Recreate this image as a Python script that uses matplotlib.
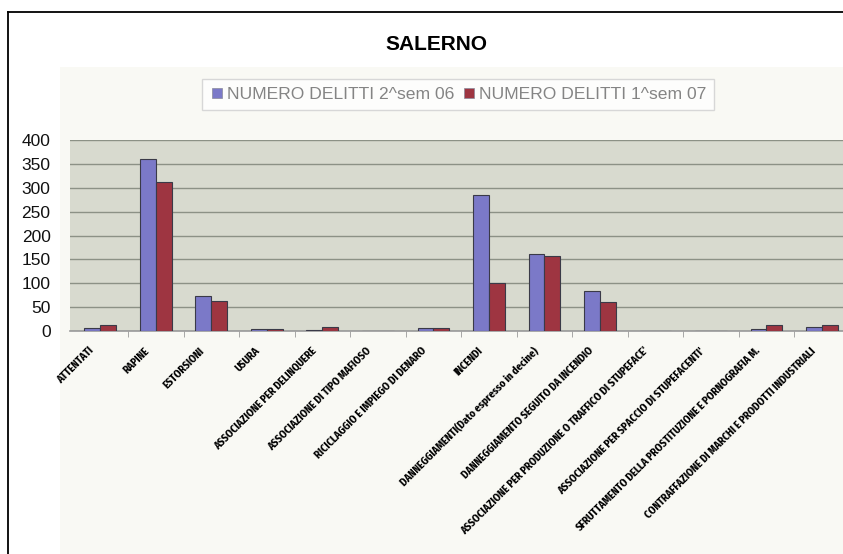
import numpy as np
import matplotlib
matplotlib.use('Agg')
import matplotlib.pyplot as plt
import matplotlib.transforms as mtransforms
from matplotlib import font_manager
from matplotlib.lines import Line2D
from matplotlib.patches import Rectangle

categories = [
    'ATTENTATI',
    'RAPINE',
    'ESTORSIONI',
    'USURA',
    'ASSOCIAZIONE PER DELINQUERE',
    'ASSOCIAZIONE DI TIPO MAFIOSO',
    'RICICLAGGIO E IMPIEGO DI DENARO',
    'INCENDI',
    'DANNEGGIAMENTI(Dato espresso in decine)',
    'DANNEGGIAMENTO SEGUITO DA INCENDIO',
    "ASSOCIAZIONE PER PRODUZIONE O TRAFFICO DI STUPEFACE'",
    "ASSOCIAZIONE PER SPACCIO DI STUPEFACENTI'",
    'SFRUTTAMENTO DELLA PROSTITUZIONE E PORNOGRAFIA M.',
    'CONTRAFFAZIONE DI MARCHI E PRODOTTI INDUSTRIALI',
]
sem2_06 = [6, 360, 73, 5, 2, 0, 6, 285, 161, 84, 0, 0, 5, 9]
sem1_07 = [12, 313, 62, 5, 9, 0, 7, 100, 157, 60, 0, 0, 12, 12]
series_names = ['NUMERO DELITTI 2^sem 06', 'NUMERO DELITTI 1^sem 07']

blue = '#7b79c8'
red = '#9e3541'


def narrow_font():
    # pick the most condensed installed face for the category labels
    best, best_rank = 'DejaVu Sans', 0
    for f in font_manager.fontManager.ttflist:
        n = f.name.lower()
        rank = 0
        if 'extra' in n and 'condensed' in n:
            rank = 3
        elif 'condensed' in n or 'narrow' in n:
            rank = 2
        if rank > best_rank:
            best, best_rank = f.name, rank
    return best


label_font = narrow_font()

fig = plt.figure(figsize=(8.43, 5.54), dpi=100)
fig.patch.set_facecolor('white')

# faint chart area and the outer frame lines
fig.add_artist(Rectangle((60 / 843, 0), 1, 1 - 67 / 554, transform=fig.transFigure,
                         facecolor='#f9f9f4', edgecolor='none', zorder=0))
fig.add_artist(Line2D([8 / 843, 8 / 843], [0, 1 - 12 / 554], transform=fig.transFigure,
                      color='black', lw=1.3))
fig.add_artist(Line2D([8 / 843, 1], [1 - 12 / 554, 1 - 12 / 554], transform=fig.transFigure,
                      color='black', lw=1.3))

ax = fig.add_axes([70 / 843, 1 - 331 / 554, 1 - 70 / 843, (331 - 140) / 554])
ax.set_facecolor('#d8dacf')

x = np.arange(len(categories))
w = 0.285
ax.bar(x - w / 2, sem2_06, w, color=blue, edgecolor='#3a3a48', lw=0.8, zorder=3)
ax.bar(x + w / 2, sem1_07, w, color=red, edgecolor='#3a3a48', lw=0.8, zorder=3)

ax.set_ylim(0, 400)
ax.set_yticks(np.arange(0, 401, 50))
ax.set_xlim(-0.545, 13.38)
ax.yaxis.grid(True, color='#8c9186', lw=1.0, zorder=1)
ax.set_axisbelow(True)
for s in ['left', 'right', 'top']:
    ax.spines[s].set_visible(False)
ax.spines['bottom'].set_color('#9a9a9a')
ax.spines['bottom'].set_linewidth(1.2)

ax.tick_params(axis='y', length=0, pad=14, labelsize=12.5, labelcolor='#111111')
for t in ax.get_yticklabels():
    t.set_family(['Liberation Sans', 'DejaVu Sans'])

# size the category labels so the longest one is about 260 px long
renderer = fig.canvas.get_renderer()
probe = fig.text(0, 0, categories[10], fontsize=10, fontweight='bold', family=label_font)
probe_w = probe.get_window_extent(renderer).width
probe.remove()
label_size = min(9.0, 10 * 260 / probe_w)

ax.set_xticks(x)
ax.set_xticks(x[:-1] + 0.5, minor=True)
ax.tick_params(axis='x', which='major', length=0, pad=13)
ax.tick_params(axis='x', which='minor', length=4, color='#9a9a9a', direction='out')
ax.set_xticklabels(categories, rotation=45, ha='right', va='center',
                   rotation_mode='anchor', fontsize=label_size, fontweight='bold',
                   family=label_font)
shift = mtransforms.ScaledTranslation(-8 / 100, 0, fig.dpi_scale_trans)
for t in ax.get_xticklabels():
    t.set_transform(t.get_transform() + shift)

fig.text(436 / 843, 1 - 45 / 554, 'SALERNO', ha='center', va='center',
         fontsize=15, fontweight='bold', family=['Liberation Sans', 'DejaVu Sans'])

handles = [Line2D([], [], marker='s', ls='none', markersize=7, markerfacecolor=c,
                  markeredgecolor='#8a8a9a', markeredgewidth=0.5) for c in (blue, red)]
leg = fig.legend(handles, series_names, loc='center', bbox_to_anchor=(458 / 843, 1 - 94 / 554),
                 ncol=2, frameon=True, fancybox=False, handlelength=0.8,
                 handletextpad=0.2, columnspacing=0.4, borderpad=0.45,
                 prop={'family': ['Liberation Sans', 'DejaVu Sans'], 'size': 12.6})
leg.get_frame().set_edgecolor('#cfcfcf')
leg.get_frame().set_linewidth(1.0)
for t in leg.get_texts():
    t.set_color('#848484')

fig.savefig('out.png', dpi=100)
